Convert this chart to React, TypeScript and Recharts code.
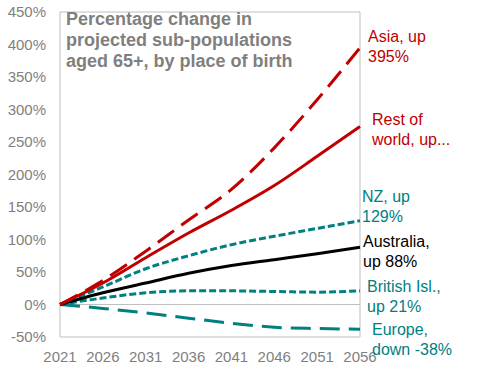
import React from 'react';
import { LineChart, Line, XAxis, YAxis, ReferenceLine, ReferenceArea } from 'recharts';

const years = [2021, 2026, 2031, 2036, 2041, 2046, 2051, 2056];
const asia = [0, 37, 82, 130, 177, 241, 315, 395];
const restOfWorld = [0, 33, 72, 110, 145, 183, 228, 274];
const nz = [0, 27, 55, 75, 92, 105, 117, 129];
const australia = [0, 18, 33, 48, 60, 69, 78, 88];
const britishIsles = [0, 10, 18, 21, 21, 20, 19, 21];
const europe = [0, -6, -13, -21, -29, -35, -37, -38];

const yTicks = [-50, 0, 50, 100, 150, 200, 250, 300, 350, 400, 450];
const titleLines = ['Percentage change in', 'projected sub-populations', 'aged 65+, by place of birth'];

const asiaLabel = ['Asia, up', '395%'];
const rowLabel = ['Rest of', 'world, up...'];
const nzLabel = ['NZ, up', '129%'];
const ausLabel = ['Australia,', 'up 88%'];
const britLabel = ['British Isl.,', 'up 21%'];
const euroLabel = ['Europe,', 'down -38%'];

const RED = '#C00000';
const TEAL = '#008080';
const GRAY = '#7F7F7F';
const BORDER = '#BFBFBF';
const FONT = '"Liberation Sans", Arial, sans-serif';

const data = years.map((year, i) => ({
  year,
  asia: asia[i],
  row: restOfWorld[i],
  nz: nz[i],
  aus: australia[i],
  brit: britishIsles[i],
  euro: europe[i],
}));

const lastIndex = years.length - 1;

function makeEndLabel(lines: string[], color: string, dx: number, dy: number) {
  return (p: any) => {
    if (p == null || p.index !== lastIndex) return <g />;
    const x0 = Number(p.x) + dx;
    const y0 = Number(p.y) + dy;
    return (
      <g>
        {lines.map((l, i) => (
          <text
            key={i}
            x={x0}
            y={y0 + i * 20}
            fill={color}
            fontSize={16}
            fontFamily={FONT}
            dominantBaseline="central"
            textAnchor="start"
          >
            {l}
          </text>
        ))}
      </g>
    );
  };
}

export default function App() {
  return (
    <div style={{ position: 'absolute', left: 0, top: 0, width: 491, height: 375, background: '#fff' }}>
      <LineChart
        width={491}
        height={375}
        data={data}
        margin={{ top: 12, right: 131, bottom: 0, left: 0 }}
      >
        <ReferenceArea
          x1={2021}
          x2={2056}
          y1={-50}
          y2={450}
          fill="none"
          fillOpacity={0}
          stroke={BORDER}
          strokeWidth={1}
        />
        <ReferenceLine y={0} stroke={BORDER} strokeWidth={1} />
        <XAxis
          dataKey="year"
          type="number"
          domain={[2021, 2056]}
          ticks={years}
          axisLine={false}
          tickLine={false}
          tickSize={0}
          tickMargin={14}
          height={38}
          interval={0}
          tick={{ fill: GRAY, fontSize: 15, fontFamily: FONT }}
        />
        <YAxis
          type="number"
          domain={[-50, 450]}
          ticks={yTicks}
          axisLine={false}
          tickLine={false}
          tickSize={0}
          tickMargin={14}
          width={60}
          interval={0}
          tickFormatter={(v: number) => `${v}%`}
          tick={{ fill: GRAY, fontSize: 15, fontFamily: FONT }}
        />
        <Line
          dataKey="euro"
          type="monotone"
          stroke={TEAL}
          strokeWidth={3}
          strokeDasharray="20 9"
          dot={false}
          isAnimationActive={false}
          label={makeEndLabel(euroLabel, TEAL, 12, 0)}
        />
        <Line
          dataKey="brit"
          type="monotone"
          stroke={TEAL}
          strokeWidth={3}
          strokeDasharray="7 3"
          dot={false}
          isAnimationActive={false}
          label={makeEndLabel(britLabel, TEAL, 7, -4)}
        />
        <Line
          dataKey="nz"
          type="monotone"
          stroke={TEAL}
          strokeWidth={3}
          strokeDasharray="7 3"
          dot={false}
          isAnimationActive={false}
          label={makeEndLabel(nzLabel, TEAL, 2, -24)}
        />
        <Line
          dataKey="aus"
          type="monotone"
          stroke="#000000"
          strokeWidth={3}
          dot={false}
          isAnimationActive={false}
          label={makeEndLabel(ausLabel, '#000000', 3, -6)}
        />
        <Line
          dataKey="row"
          type="monotone"
          stroke={RED}
          strokeWidth={3}
          dot={false}
          isAnimationActive={false}
          label={makeEndLabel(rowLabel, RED, 12, -7)}
        />
        <Line
          dataKey="asia"
          type="monotone"
          stroke={RED}
          strokeWidth={3}
          strokeDasharray="20 9"
          dot={false}
          isAnimationActive={false}
          label={makeEndLabel(asiaLabel, RED, 8, -11)}
        />
      </LineChart>
      <div
        style={{
          position: 'absolute',
          left: 66,
          top: 9,
          fontFamily: FONT,
          fontWeight: 700,
          fontSize: 18,
          lineHeight: '21px',
          color: GRAY,
          whiteSpace: 'nowrap',
        }}
      >
        {titleLines.map((t, i) => (
          <div key={i}>{t}</div>
        ))}
      </div>
    </div>
  );
}
